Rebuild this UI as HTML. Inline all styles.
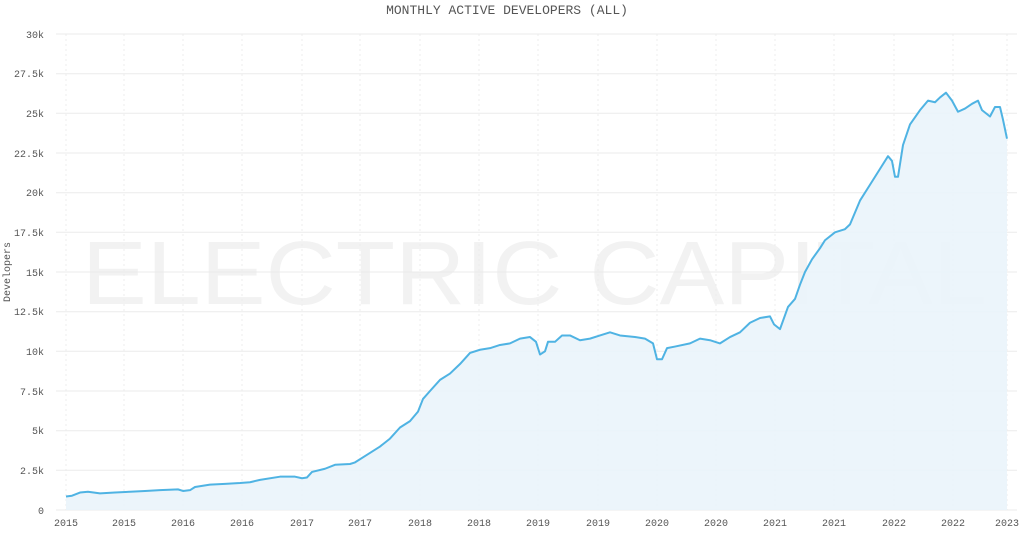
<!DOCTYPE html>
<html><head><meta charset="utf-8"><style>
body{margin:0;background:#fff;width:1024px;height:534px;overflow:hidden}
text{font-family:"Liberation Mono","DejaVu Sans Mono",monospace;fill:#555}
</style></head><body>
<svg width="1024" height="534" viewBox="0 0 1024 534" xmlns="http://www.w3.org/2000/svg">
<text x="82" y="304" font-size="90" textLength="905" lengthAdjust="spacingAndGlyphs" style="font-family:'Liberation Sans',sans-serif;fill:#f2f2f2">ELECTRIC CAPITAL</text>
<text x="507" y="14" text-anchor="middle" font-size="13" fill="#444">MONTHLY ACTIVE DEVELOPERS (ALL)</text>
<text x="0" y="0" transform="translate(10,272) rotate(-90)" text-anchor="middle" font-size="10" fill="#444">Developers</text>
<g stroke="#ebebeb" stroke-width="1">
<line x1="56" x2="1017" y1="34" y2="34"/><line x1="56" x2="1017" y1="73.7" y2="73.7"/><line x1="56" x2="1017" y1="113.3" y2="113.3"/><line x1="56" x2="1017" y1="153" y2="153"/><line x1="56" x2="1017" y1="192.7" y2="192.7"/><line x1="56" x2="1017" y1="232.3" y2="232.3"/><line x1="56" x2="1017" y1="272" y2="272"/><line x1="56" x2="1017" y1="311.7" y2="311.7"/><line x1="56" x2="1017" y1="351.3" y2="351.3"/><line x1="56" x2="1017" y1="391" y2="391"/><line x1="56" x2="1017" y1="430.7" y2="430.7"/><line x1="56" x2="1017" y1="470.3" y2="470.3"/><line x1="56" x2="1017" y1="510" y2="510"/>
</g>
<g stroke="#ececec" stroke-width="1" stroke-dasharray="2,3">
<line y1="34" y2="510" x1="66" x2="66"/><line y1="34" y2="510" x1="124" x2="124"/><line y1="34" y2="510" x1="183" x2="183"/><line y1="34" y2="510" x1="242" x2="242"/><line y1="34" y2="510" x1="302" x2="302"/><line y1="34" y2="510" x1="360" x2="360"/><line y1="34" y2="510" x1="420" x2="420"/><line y1="34" y2="510" x1="479" x2="479"/><line y1="34" y2="510" x1="538" x2="538"/><line y1="34" y2="510" x1="598" x2="598"/><line y1="34" y2="510" x1="657" x2="657"/><line y1="34" y2="510" x1="716" x2="716"/><line y1="34" y2="510" x1="775" x2="775"/><line y1="34" y2="510" x1="834" x2="834"/><line y1="34" y2="510" x1="894" x2="894"/><line y1="34" y2="510" x1="953" x2="953"/><line y1="34" y2="510" x1="1007" x2="1007"/>
</g>
<g font-size="10" text-anchor="end">
<text x="44" y="38">30k</text><text x="44" y="77">27.5k</text><text x="44" y="117">25k</text><text x="44" y="157">22.5k</text><text x="44" y="196">20k</text><text x="44" y="236">17.5k</text><text x="44" y="276">15k</text><text x="44" y="315">12.5k</text><text x="44" y="355">10k</text><text x="44" y="395">7.5k</text><text x="44" y="434">5k</text><text x="44" y="474">2.5k</text><text x="44" y="514">0</text>
</g>
<g font-size="10" text-anchor="middle">
<text x="66" y="526">2015</text><text x="124" y="526">2015</text><text x="183" y="526">2016</text><text x="242" y="526">2016</text><text x="302" y="526">2017</text><text x="360" y="526">2017</text><text x="420" y="526">2018</text><text x="479" y="526">2018</text><text x="538" y="526">2019</text><text x="598" y="526">2019</text><text x="657" y="526">2020</text><text x="716" y="526">2020</text><text x="775" y="526">2021</text><text x="834" y="526">2021</text><text x="894" y="526">2022</text><text x="953" y="526">2022</text><text x="1007" y="526">2023</text>
</g>
<g transform="translate(0,510) scale(1,-15.867)">
<path fill="#eaf4fb" fill-opacity="0.9" d="M66,0 L66,0.85 72,0.9 80,1.1 88,1.15 100,1.05 115,1.1 130,1.15 145,1.2 160,1.25 178,1.3 183,1.2 190,1.25 195,1.45 210,1.6 225,1.65 240,1.7 250,1.75 260,1.9 280,2.1 295,2.1 302,2.0 307,2.05 312,2.4 325,2.6 335,2.85 350,2.9 355,3.0 365,3.4 380,4.0 390,4.5 400,5.2 410,5.6 418,6.2 423,7.0 430,7.5 440,8.2 450,8.6 460,9.2 470,9.9 480,10.1 490,10.2 500,10.4 510,10.5 520,10.8 530,10.9 536,10.6 540,9.8 545,10.0 548,10.6 555,10.6 562,11.0 570,11.0 580,10.7 590,10.8 600,11.0 610,11.2 620,11.0 635,10.9 645,10.8 653,10.5 657,9.5 662,9.5 667,10.2 675,10.3 690,10.5 700,10.8 710,10.7 720,10.5 730,10.9 740,11.2 750,11.8 760,12.1 770,12.2 774,11.7 780,11.4 788,12.8 795,13.3 800,14.2 805,15.0 812,15.8 820,16.5 825,17.0 835,17.5 845,17.7 850,18.0 860,19.5 870,20.5 880,21.5 888,22.3 892,22.0 895,21.0 898,21.0 903,23.0 910,24.3 920,25.2 928,25.8 935,25.7 940,26.0 946,26.3 952,25.8 958,25.1 965,25.3 972,25.6 978,25.8 982,25.2 990,24.8 995,25.4 1000,25.4 1003,24.6 1007,23.4 L1007,0 Z"/>
<path fill="none" stroke="#4fb3e3" stroke-width="2" vector-effect="non-scaling-stroke" stroke-linejoin="round" d="M66,0.85 72,0.9 80,1.1 88,1.15 100,1.05 115,1.1 130,1.15 145,1.2 160,1.25 178,1.3 183,1.2 190,1.25 195,1.45 210,1.6 225,1.65 240,1.7 250,1.75 260,1.9 280,2.1 295,2.1 302,2.0 307,2.05 312,2.4 325,2.6 335,2.85 350,2.9 355,3.0 365,3.4 380,4.0 390,4.5 400,5.2 410,5.6 418,6.2 423,7.0 430,7.5 440,8.2 450,8.6 460,9.2 470,9.9 480,10.1 490,10.2 500,10.4 510,10.5 520,10.8 530,10.9 536,10.6 540,9.8 545,10.0 548,10.6 555,10.6 562,11.0 570,11.0 580,10.7 590,10.8 600,11.0 610,11.2 620,11.0 635,10.9 645,10.8 653,10.5 657,9.5 662,9.5 667,10.2 675,10.3 690,10.5 700,10.8 710,10.7 720,10.5 730,10.9 740,11.2 750,11.8 760,12.1 770,12.2 774,11.7 780,11.4 788,12.8 795,13.3 800,14.2 805,15.0 812,15.8 820,16.5 825,17.0 835,17.5 845,17.7 850,18.0 860,19.5 870,20.5 880,21.5 888,22.3 892,22.0 895,21.0 898,21.0 903,23.0 910,24.3 920,25.2 928,25.8 935,25.7 940,26.0 946,26.3 952,25.8 958,25.1 965,25.3 972,25.6 978,25.8 982,25.2 990,24.8 995,25.4 1000,25.4 1003,24.6 1007,23.4"/>
</g>
</svg>
</body></html>
